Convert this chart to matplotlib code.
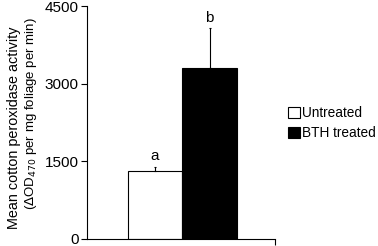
import matplotlib
matplotlib.use("Agg")
from matplotlib import pyplot as plt
from matplotlib.patches import Patch
import numpy as np

treatments = ['Untreated', 'BTH treated']
activity = [1310, 3300]
error_up = [90, 770]
letters = ['a', 'b']
colors = ['white', 'black']

plt.rcParams['font.family'] = ['Liberation Sans', 'DejaVu Sans']

fig = plt.figure(figsize=(3.78, 2.46), dpi=100)
ax = fig.add_axes([0.230, 0.0285, 0.4975, 0.947])

x = np.arange(len(activity))
ax.bar(x, activity, width=1.0, color=colors, edgecolor='black', linewidth=0.8)
ax.errorbar(x, activity, yerr=[np.zeros(len(activity)), error_up],
            fmt='none', ecolor='black', elinewidth=0.8, capsize=1, capthick=0.8)

for xi, v, e, lab in zip(x, activity, error_up, letters):
    ax.text(xi, v + e + 70, lab, ha='center', va='bottom', fontsize=11)

xmin, xmax = -1.25, 2.20
ax.set_xlim(xmin, xmax)
ax.set_ylim(0, 4500)
ax.set_yticks([0, 1500, 3000, 4500])
ax.set_xticks([xmax])
ax.set_xticklabels([''])
ax.tick_params(axis='y', labelsize=11, length=4, width=0.8, pad=2)
ax.tick_params(axis='x', length=4, width=0.8)

for s in ['top', 'right']:
    ax.spines[s].set_visible(False)
for s in ['left', 'bottom']:
    ax.spines[s].set_linewidth(0.8)
ax.spines['left'].set_bounds(0, 4500)

fig.text(0.036, 0.482, 'Mean cotton peroxidase activity', rotation=90,
         ha='center', va='center', fontsize=10.4)
fig.text(0.083, 0.536, r'($\Delta$OD$_{470}$ per mg foliage per min)', rotation=90,
         ha='center', va='center', fontsize=9.5)

handles = [Patch(facecolor=c, edgecolor='black', linewidth=0.8) for c in colors]
fig.legend(handles, treatments, loc='center left', bbox_to_anchor=(0.762, 0.5),
           frameon=False, fontsize=9.8, handlelength=0.9, handleheight=0.9,
           handletextpad=0.15, labelspacing=0.42, borderpad=0, borderaxespad=0)

fig.savefig('out.png', dpi=100)
